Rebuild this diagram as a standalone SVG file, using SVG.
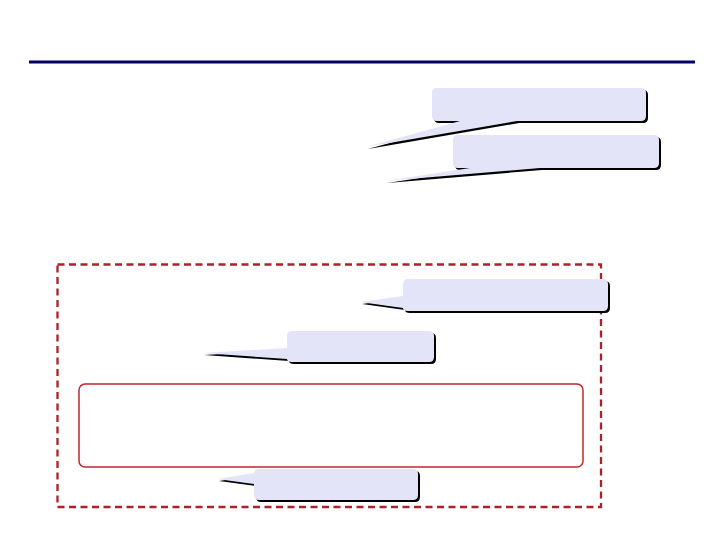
<svg xmlns="http://www.w3.org/2000/svg" width="720" height="540" viewBox="0 0 720 540">
<style>
.shadow{fill:#000000;}
.bubble{fill:#E4E4F8;}
.frame{fill:none;stroke:#AC2228;stroke-width:2.3;stroke-dasharray:7 4.5;}
.inner{fill:none;stroke:#C0282D;stroke-width:1.5;}
</style>
<rect width="720" height="540" fill="#FFFFFF"/>
<line x1="29" y1="62" x2="695" y2="62" stroke="#000066" stroke-width="3"/>
<g id="group-frame">
<rect class="frame" x="57.5" y="264.5" width="543.5" height="242.5"/>
</g>
<g id="inner-box">
<rect class="inner" x="79" y="384" width="504" height="83" rx="6" ry="6"/>
</g>
<g id="callout-1">
<path class="shadow" transform="translate(2,2)" d="M437,88 H641 Q646,88 646,93 V116 Q646,121 641,121 H517 L366,147 L460,121 H437 Q432,121 432,116 V93 Q432,88 437,88 Z"/>
<path class="bubble" d="M437,88 H641 Q646,88 646,93 V116 Q646,121 641,121 H517 L366,147 L460,121 H437 Q432,121 432,116 V93 Q432,88 437,88 Z"/>
</g>
<g id="callout-2">
<path class="shadow" transform="translate(2,2)" d="M458,135 H654 Q659,135 659,140 V163 Q659,168 654,168 H540 L385,181 L470,168 H458 Q453,168 453,163 V140 Q453,135 458,135 Z"/>
<path class="bubble" d="M458,135 H654 Q659,135 659,140 V163 Q659,168 654,168 H540 L385,181 L470,168 H458 Q453,168 453,163 V140 Q453,135 458,135 Z"/>
</g>
<g id="callout-3">
<path class="shadow" transform="translate(2,2)" d="M408,279 H603 Q608,279 608,284 V306 Q608,311 603,311 H408 Q403,311 403,308 L360,302 L403,296 V284 Q403,279 408,279 Z"/>
<path class="bubble" d="M408,279 H603 Q608,279 608,284 V306 Q608,311 603,311 H408 Q403,311 403,308 L360,302 L403,296 V284 Q403,279 408,279 Z"/>
</g>
<g id="callout-4">
<path class="shadow" transform="translate(2,2)" d="M292,331 H429 Q434,331 434,336 V357 Q434,362 429,362 H292 Q287,362 287,359 L202,353 L287,348 V336 Q287,331 292,331 Z"/>
<path class="bubble" d="M292,331 H429 Q434,331 434,336 V357 Q434,362 429,362 H292 Q287,362 287,359 L202,353 L287,348 V336 Q287,331 292,331 Z"/>
</g>
<g id="callout-5">
<path class="shadow" transform="translate(2,2)" d="M259,469 H413 Q418,469 418,474 V495 Q418,500 413,500 H259 Q254,500 254,495 V484 L217,479 L254,473 V474 Q254,469 259,469 Z"/>
<path class="bubble" d="M259,469 H413 Q418,469 418,474 V495 Q418,500 413,500 H259 Q254,500 254,495 V484 L217,479 L254,473 V474 Q254,469 259,469 Z"/>
</g>
</svg>
